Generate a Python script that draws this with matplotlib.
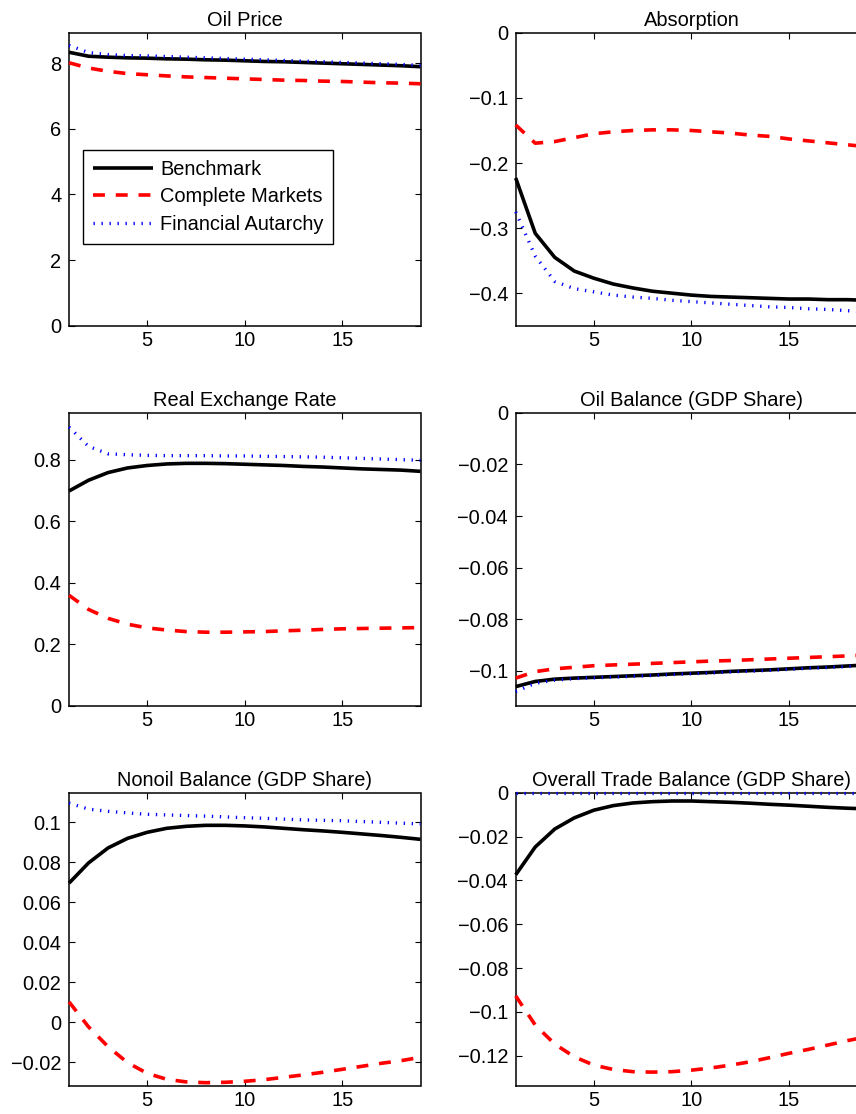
import matplotlib
matplotlib.use("Agg")
import matplotlib.pyplot as plt
from matplotlib.ticker import FuncFormatter

plt.rcParams['font.family'] = ['Liberation Sans', 'DejaVu Sans']
plt.rcParams['axes.unicode_minus'] = True

# ---------------- data ----------------
periods = list(range(1, 20))
series_labels = ["Benchmark", "Complete Markets", "Financial Autarchy"]
titles = ["Oil Price", "Absorption", "Real Exchange Rate", "Oil Balance (GDP Share)",
          "Nonoil Balance (GDP Share)", "Overall Trade Balance (GDP Share)"]
x_ticks = [5, 10, 15]

bench_oil = [8.33, 8.21, 8.18, 8.16, 8.15, 8.13, 8.12, 8.10, 8.09, 8.07, 8.05, 8.04, 8.02, 8.00, 7.98, 7.96, 7.94, 7.92, 7.89]
complete_oil = [8.01, 7.85, 7.75, 7.68, 7.645, 7.61, 7.58, 7.56, 7.54, 7.52, 7.50, 7.48, 7.47, 7.45, 7.44, 7.42, 7.40, 7.39, 7.37]
autarky_oil = [8.54, 8.32, 8.26, 8.23, 8.22, 8.20, 8.18, 8.16, 8.14, 8.12, 8.10, 8.08, 8.06, 8.04, 8.02, 8.00, 7.98, 7.96, 7.93]

bench_abs = [-0.223, -0.308, -0.345, -0.366, -0.377, -0.386, -0.392, -0.397, -0.400, -0.403, -0.405, -0.406, -0.407, -0.408, -0.409, -0.409, -0.410, -0.410, -0.411]
complete_abs = [-0.1415, -0.1695, -0.167, -0.161, -0.155, -0.152, -0.150, -0.149, -0.149, -0.150, -0.152, -0.154, -0.157, -0.159, -0.163, -0.166, -0.169, -0.172, -0.175]
autarky_abs = [-0.275, -0.343, -0.382, -0.393, -0.398, -0.403, -0.406, -0.408, -0.411, -0.413, -0.415, -0.417, -0.419, -0.421, -0.422, -0.424, -0.425, -0.427, -0.429]

bench_rer = [0.698, 0.733, 0.758, 0.773, 0.781, 0.786, 0.788, 0.788, 0.787, 0.785, 0.783, 0.781, 0.778, 0.776, 0.773, 0.770, 0.768, 0.766, 0.762]
complete_rer = [0.359, 0.313, 0.284, 0.265, 0.253, 0.246, 0.241, 0.239, 0.239, 0.240, 0.241, 0.2435, 0.2455, 0.248, 0.250, 0.251, 0.252, 0.253, 0.254]
autarky_rer = [0.906, 0.843, 0.819, 0.816, 0.814, 0.813, 0.813, 0.813, 0.812, 0.812, 0.811, 0.810, 0.809, 0.808, 0.806, 0.804, 0.802, 0.800, 0.798]

bench_ob = [-0.1061, -0.1041, -0.1032, -0.1028, -0.1025, -0.1022, -0.1019, -0.1016, -0.1012, -0.1009, -0.1006, -0.1002, -0.0999, -0.0996, -0.0992, -0.0988, -0.0985, -0.0981, -0.0977]
complete_ob = [-0.1028, -0.1003, -0.0992, -0.0986, -0.0980, -0.0977, -0.0974, -0.0971, -0.0968, -0.0965, -0.0962, -0.0960, -0.0957, -0.0954, -0.0951, -0.0948, -0.0945, -0.0942, -0.0938]
autarky_ob = [-0.1080, -0.1048, -0.1036, -0.1030, -0.1027, -0.1024, -0.1021, -0.1018, -0.1014, -0.1011, -0.1008, -0.1004, -0.1001, -0.0998, -0.0994, -0.0990, -0.0987, -0.0983, -0.0979]

bench_nb = [0.0696, 0.0797, 0.0872, 0.0920, 0.0950, 0.0970, 0.0980, 0.0985, 0.0985, 0.0982, 0.0977, 0.0970, 0.0963, 0.0957, 0.0950, 0.0942, 0.0934, 0.0925, 0.0915]
complete_nb = [0.0103, -0.0022, -0.0121, -0.0201, -0.0254, -0.0284, -0.0297, -0.0301, -0.0299, -0.0294, -0.0286, -0.0274, -0.0262, -0.0249, -0.0234, -0.0219, -0.0204, -0.0191, -0.0174]
autarky_nb = [0.1096, 0.1066, 0.1055, 0.1047, 0.1040, 0.1037, 0.1034, 0.1031, 0.1027, 0.1023, 0.1020, 0.1016, 0.1012, 0.1010, 0.1008, 0.1004, 0.1000, 0.0996, 0.0992]

bench_tb = [-0.0374, -0.0247, -0.0165, -0.0114, -0.0079, -0.0058, -0.0046, -0.0040, -0.0037, -0.0037, -0.0040, -0.0043, -0.0047, -0.0052, -0.0056, -0.0061, -0.0066, -0.0070, -0.0073]
complete_tb = [-0.0927, -0.1060, -0.1147, -0.1205, -0.1243, -0.1263, -0.1273, -0.1275, -0.1273, -0.1266, -0.1256, -0.1243, -0.1228, -0.1209, -0.1189, -0.1171, -0.1151, -0.1131, -0.1113]
autarky_tb = [0.0, 0.0, 0.0, 0.0, 0.0, 0.0, 0.0, 0.0, 0.0, 0.0, 0.0, 0.0, 0.0, 0.0, 0.0, 0.0, 0.0, 0.0, 0.0]

yticks_oil = [0, 2, 4, 6, 8]
yticks_abs = [0, -0.1, -0.2, -0.3, -0.4]
yticks_rer = [0, 0.2, 0.4, 0.6, 0.8]
yticks_ob = [0, -0.02, -0.04, -0.06, -0.08, -0.1]
yticks_nb = [-0.02, 0, 0.02, 0.04, 0.06, 0.08, 0.1]
yticks_tb = [0, -0.02, -0.04, -0.06, -0.08, -0.1, -0.12]

ylims = [(0, 8.92), (-0.45, 0), (0, 0.952), (-0.1135, 0), (-0.0316, 0.1147), (-0.1337, 0)]

panels = [
    (bench_oil, complete_oil, autarky_oil, yticks_oil),
    (bench_abs, complete_abs, autarky_abs, yticks_abs),
    (bench_rer, complete_rer, autarky_rer, yticks_rer),
    (bench_ob, complete_ob, autarky_ob, yticks_ob),
    (bench_nb, complete_nb, autarky_nb, yticks_nb),
    (bench_tb, complete_tb, autarky_tb, yticks_tb),
]

# ---------------- figure ----------------
W, H = 856, 1114
fig = plt.figure(figsize=(W / 100, H / 100), dpi=100)

col_left_px = [69.0, 515.7]
ax_w_px = 351.5
row_bottom_px = [325.7, 705.7, 1085.7]
ax_h_px = 292.8

FS = 14.4


def fmt(v, pos):
    if abs(v) < 1e-12:
        return "0"
    s = "%g" % v
    return s.replace("-", "\u2212")


lines_for_legend = None
for i, (b, c, a, yt) in enumerate(panels):
    r, col = divmod(i, 2)
    left = col_left_px[col] / W
    bottom = 1 - row_bottom_px[r] / H
    ax = fig.add_axes([left, bottom, ax_w_px / W, ax_h_px / H])
    l1, = ax.plot(periods, b, color='black', lw=2.6, solid_capstyle='butt', zorder=3, clip_on=False)
    l2, = ax.plot(periods, c, color='red', lw=2.6, linestyle=(0, (3.3, 3.0)),
                  dash_capstyle='butt', zorder=3, clip_on=False)
    l3, = ax.plot(periods, a, color='blue', lw=2.4, linestyle=(0, (0.4, 2.0)),
                  dash_capstyle='butt', zorder=4, clip_on=False)
    if lines_for_legend is None:
        lines_for_legend = (l1, l2, l3)
    ax.set_xlim(1, 19)
    ax.set_ylim(*ylims[i])
    ax.set_xticks(x_ticks)
    ax.set_yticks(yt)
    ax.yaxis.set_major_formatter(FuncFormatter(fmt))
    ax.tick_params(direction='in', top=True, right=True, length=4, width=0.8,
                   labelsize=FS, colors='black')
    ax.tick_params(axis='y', pad=5.5)
    ax.tick_params(axis='x', pad=3.5)
    for sp in ax.spines.values():
        sp.set_linewidth(1.1)
        sp.set_color('black')
    ax.set_title(titles[i], fontsize=FS, pad=5.0)
    if i == 0:
        leg = ax.legend(lines_for_legend, series_labels, loc='upper left',
                        bbox_to_anchor=(0.0398, 0.601), borderaxespad=0,
                        fontsize=FS, frameon=True, fancybox=False, framealpha=1,
                        edgecolor='black', handlelength=3.0, handletextpad=0.35,
                        borderpad=0.5, labelspacing=0.42)
        leg.get_frame().set_linewidth(1.0)

fig.savefig("out.png", dpi=100)
